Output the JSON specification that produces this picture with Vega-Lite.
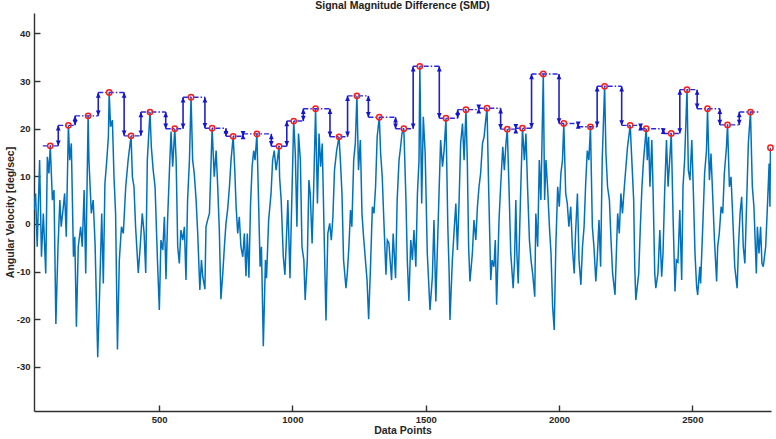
{
"$schema": "https://vega.github.io/schema/vega-lite/v6.json",
"width": 737, "height": 398,
"autosize": {"type": "none"},
"padding": {"left": 34, "top": 13, "right": 5, "bottom": 28},
"background": "white",
"title": {"text": "Signal Magnitude Difference (SMD)", "fontSize": 10.5, "font": "Liberation Sans", "fontWeight": "bold", "color": "#222222", "offset": 2, "anchor": "middle"},
"config": {
 "view": {"stroke": null},
 "axis": {"domainColor": "#303030", "domainWidth": 1.4, "tickColor": "#303030", "tickWidth": 1.4, "tickSize": -6, "labelFont": "Liberation Sans", "labelFontSize": 9.5, "labelFontWeight": "bold", "labelColor": "#262626", "titleFont": "Liberation Sans", "titleFontSize": 10.5, "titleFontWeight": "bold", "titleColor": "#262626", "grid": false}
},
"datasets": {
 "signal": [
{"x":31,"y":2.9},{"x":37,"y":6.4},{"x":43,"y":-4.8},{"x":52,"y":13.4},{"x":59,"y":-6.9},{"x":66,"y":2.2},{"x":75,"y":-10.4},{"x":81,"y":14.1},{"x":87,"y":10.6},{"x":92,"y":16.4},{"x":100,"y":5.0},{"x":106,"y":7.1},{"x":113,"y":-21},{"x":121,"y":-4.8},{"x":128,"y":5.0},{"x":133,"y":-0.6},{"x":141,"y":3.6},{"x":146,"y":6.4},{"x":152,"y":-2.7},{"x":160,"y":20.7},{"x":165,"y":13.4},{"x":171,"y":16.9},{"x":179,"y":-6.9},{"x":184,"y":-2.7},{"x":190,"y":-21.6},{"x":197,"y":-4.8},{"x":206,"y":-0.6},{"x":212,"y":-4.8},{"x":219,"y":7.1},{"x":225,"y":-10.4},{"x":234,"y":22.7},{"x":237,"y":13.4},{"x":246,"y":2.2},{"x":253,"y":5.0},{"x":260,"y":-4.1},{"x":270,"y":-28},{"x":277,"y":-14.6},{"x":285,"y":2.2},{"x":291,"y":-12.5},{"x":297,"y":8.5},{"x":304,"y":13.4},{"x":310,"y":18.3},{"x":313,"y":27.6},{"x":318,"y":20.4},{"x":325,"y":21.8},{"x":331,"y":9.9},{"x":337,"y":2.2},{"x":344,"y":-26.4},{"x":351,"y":-7.6},{"x":359,"y":-0.6},{"x":366,"y":-2.0},{"x":375,"y":7.8},{"x":384,"y":13.4},{"x":395,"y":18.5},{"x":400,"y":9.9},{"x":406,"y":7.8},{"x":412,"y":-0.6},{"x":422,"y":-10.3},{"x":429,"y":-5},{"x":437,"y":2.2},{"x":444,"y":-2.0},{"x":450,"y":-10.3},{"x":456,"y":13.4},{"x":466,"y":23.5},{"x":471,"y":16.2},{"x":478,"y":11.3},{"x":485,"y":7.8},{"x":494,"y":-7.6},
{"x":501,"y":-18.1},{"x":507,"y":-3.4},{"x":514,"y":-5.5},{"x":520,"y":1.5},{"x":526,"y":-11.6},{"x":532,"y":0.8},{"x":539,"y":11.3},{"x":545,"y":19.4},{"x":551,"y":12},{"x":559,"y":20.0},{"x":564,"y":13.4},{"x":570,"y":-4.8},{"x":576,"y":-8.3},{"x":582,"y":-1.3},{"x":589,"y":-3.4},{"x":595,"y":-0.6},{"x":601,"y":-11.8},{"x":607,"y":5},{"x":614,"y":13.4},{"x":620,"y":26.6},{"x":626,"y":13.4},{"x":632,"y":10.6},{"x":639,"y":5},{"x":645,"y":-2},{"x":653,"y":-13.9},{"x":659,"y":-7.6},{"x":664,"y":-11.1},{"x":672,"y":-13.7},{"x":676,"y":-0.6},{"x":682,"y":0.8},{"x":689,"y":2.2},{"x":699,"y":20.1},{"x":707,"y":9.9},{"x":714,"y":15.4},{"x":720,"y":7.8},{"x":726,"y":-1.3},{"x":732,"y":-15.8},{"x":739,"y":-10.4},{"x":745,"y":-4.8},{"x":751,"y":0.1},{"x":757,"y":2.9},{"x":764,"y":7.8},{"x":770,"y":13.4},{"x":778,"y":18.4},{"x":784,"y":11.3},{"x":789,"y":3.6},{"x":795,"y":-2},{"x":801,"y":1.5},{"x":807,"y":-4.8},{"x":814,"y":-6.9},{"x":820,"y":-2},{"x":826,"y":-11},{"x":831,"y":-2},{"x":837,"y":-11.3},{"x":843,"y":4},{"x":849,"y":12},{"x":855,"y":15.4},{"x":860,"y":13.4},{"x":867,"y":18.9},{"x":874,"y":2.9},{"x":879,"y":-9},{"x":884,"y":-4.8},{"x":891,"y":-25.7},{"x":899,"y":-7.6},{"x":903,"y":-11.4},{"x":911,"y":0.8},{"x":920,"y":6.4},{"x":926,"y":13.4},{"x":932,"y":15.4},{"x":939,"y":11.3},{"x":950,"y":16.3},
{"x":952,"y":9.9},{"x":958,"y":5},{"x":966,"y":-6.9},{"x":972,"y":-10.7},{"x":977,"y":-4},{"x":983,"y":5},{"x":991,"y":-11.4},{"x":996,"y":0.8},{"x":1005,"y":21.6},{"x":1011,"y":14.8},{"x":1017,"y":-0.6},{"x":1023,"y":19},{"x":1030,"y":13.4},{"x":1036,"y":-4.8},{"x":1043,"y":-7.6},{"x":1048,"y":-16},{"x":1056,"y":-7.6},{"x":1062,"y":9.2},{"x":1067,"y":6.4},{"x":1074,"y":-4.1},{"x":1080,"y":7.8},{"x":1087,"y":24.2},{"x":1094,"y":4.3},{"x":1100,"y":19},{"x":1106,"y":12},{"x":1112,"y":16.9},{"x":1118,"y":0.8},{"x":1126,"y":-20.3},{"x":1133,"y":-2},{"x":1140,"y":0.1},{"x":1146,"y":-3.4},{"x":1152,"y":1.5},{"x":1158,"y":11.3},{"x":1166,"y":15.4},{"x":1175,"y":18.3},{"x":1180,"y":13.4},{"x":1186,"y":6.4},{"x":1192,"y":-7.6},{"x":1201,"y":-13.5},{"x":1206,"y":-10.4},{"x":1212,"y":-4.8},{"x":1218,"y":2.9},{"x":1223,"y":-0.6},{"x":1230,"y":13.4},{"x":1236,"y":16.9},{"x":1242,"y":26.9},{"x":1248,"y":11.3},{"x":1255,"y":17.6},{"x":1261,"y":2.2},{"x":1267,"y":-2.7},{"x":1274,"y":-7.6},{"x":1280,"y":-11.8},{"x":1286,"y":-20},{"x":1293,"y":-9},{"x":1300,"y":3.6},{"x":1306,"y":2.2},{"x":1312,"y":7.8},{"x":1318,"y":18.3},{"x":1326,"y":22.4},{"x":1331,"y":14.8},{"x":1337,"y":9.9},{"x":1343,"y":0.8},{"x":1351,"y":-10.7},{"x":1356,"y":-3.4},{"x":1362,"y":-4},{"x":1372,"y":-11.8},{"x":1378,"y":-2},{"x":1387,"y":-11.4},{"x":1393,"y":5},{"x":1400,"y":13.4},{"x":1406,"y":16.2},{"x":1411,"y":19},
{"x":1418,"y":20.0},{"x":1426,"y":5},{"x":1431,"y":-7.6},{"x":1437,"y":-16.2},{"x":1444,"y":-3.4},{"x":1450,"y":-7.6},{"x":1456,"y":-1.3},{"x":1463,"y":-9},{"x":1469,"y":6.4},{"x":1475,"y":13.4},{"x":1478,"y":33.1},{"x":1485,"y":4.3},{"x":1491,"y":22.5},{"x":1498,"y":14.8},{"x":1506,"y":-6.2},{"x":1512,"y":-13.2},{"x":1516,"y":-18.1},{"x":1525,"y":-11.1},{"x":1531,"y":0.8},{"x":1538,"y":-16.3},{"x":1550,"y":6.4},{"x":1556,"y":17.6},{"x":1563,"y":12},{"x":1569,"y":15.4},{"x":1576,"y":22.2},{"x":1583,"y":-0.6},{"x":1588,"y":-10.4},{"x":1591,"y":-20.2},{"x":1600,"y":-7.6},{"x":1606,"y":-2},{"x":1613,"y":4.3},{"x":1619,"y":-5.5},{"x":1625,"y":4.3},{"x":1631,"y":16.9},{"x":1638,"y":21.1},{"x":1644,"y":13.4},{"x":1651,"y":24.0},{"x":1656,"y":13.4},{"x":1661,"y":-4.8},{"x":1666,"y":-12.1},{"x":1675,"y":-6.2},{"x":1681,"y":0.8},{"x":1688,"y":-3.4},{"x":1694,"y":3.6},{"x":1700,"y":7.8},{"x":1706,"y":10.6},{"x":1713,"y":16.9},{"x":1719,"y":18.3},{"x":1725,"y":21.8},{"x":1730,"y":24.3},{"x":1736,"y":7.8},{"x":1744,"y":-11.8},{"x":1749,"y":-7.6},{"x":1756,"y":-9},{"x":1761,"y":-3.4},{"x":1766,"y":-17},{"x":1775,"y":0.8},{"x":1781,"y":7.8},{"x":1789,"y":16.2},{"x":1795,"y":11.3},{"x":1801,"y":16.9},{"x":1806,"y":19.9},{"x":1813,"y":6.4},{"x":1819,"y":-6.2},{"x":1828,"y":-13.5},{"x":1833,"y":-8},{"x":1838,"y":5},{"x":1842,"y":-6.2},{"x":1847,"y":-12.5},{"x":1856,"y":6.4},{"x":1863,"y":20.1},
{"x":1870,"y":13.4},{"x":1876,"y":19},{"x":1882,"y":7.8},{"x":1889,"y":-3.4},{"x":1895,"y":-7.6},{"x":1901,"y":-10.4},{"x":1909,"y":-15.3},{"x":1913,"y":2.2},{"x":1920,"y":-4.8},{"x":1926,"y":13.4},{"x":1932,"y":5},{"x":1941,"y":31.5},{"x":1946,"y":5},{"x":1951,"y":13.4},{"x":1957,"y":7.8},{"x":1964,"y":-0.6},{"x":1970,"y":-6.2},{"x":1976,"y":-17.4},{"x":1982,"y":-22.3},{"x":1988,"y":-4.8},{"x":1995,"y":7.8},{"x":2001,"y":3.6},{"x":2007,"y":10.6},{"x":2013,"y":13.4},{"x":2018,"y":21.1},{"x":2025,"y":6.4},{"x":2031,"y":4.3},{"x":2037,"y":-0.6},{"x":2044,"y":3.6},{"x":2050,"y":-4.8},{"x":2057,"y":-10.4},{"x":2062,"y":-2},{"x":2069,"y":6.4},{"x":2075,"y":-7.6},{"x":2082,"y":-12.8},{"x":2088,"y":-4.8},{"x":2094,"y":-0.6},{"x":2100,"y":8.5},{"x":2106,"y":15.4},{"x":2112,"y":13.4},{"x":2118,"y":20.4},{"x":2125,"y":-0.6},{"x":2131,"y":-4.8},{"x":2138,"y":-12.1},{"x":2143,"y":-7.6},{"x":2150,"y":0.8},{"x":2156,"y":-9},{"x":2162,"y":13.4},{"x":2171,"y":28.9},{"x":2176,"y":14.8},{"x":2182,"y":7.8},{"x":2189,"y":5},{"x":2195,"y":-3.4},{"x":2201,"y":-10.4},{"x":2210,"y":-14.9},{"x":2215,"y":-6.2},{"x":2220,"y":2.2},{"x":2226,"y":-2},{"x":2232,"y":6.4},{"x":2238,"y":2.2},{"x":2245,"y":7.8},{"x":2251,"y":12},{"x":2257,"y":16.2},{"x":2267,"y":20.7},{"x":2273,"y":13.4},{"x":2280,"y":5},{"x":2284,"y":-9},{"x":2288,"y":-16},{"x":2299,"y":-10.4},{"x":2305,"y":-0.6},{"x":2311,"y":7.8},{"x":2317,"y":13.4},{"x":2327,"y":20.0},
{"x":2331,"y":13.4},{"x":2336,"y":18.3},{"x":2341,"y":7.8},{"x":2348,"y":17.6},{"x":2353,"y":6.4},{"x":2359,"y":-10.4},{"x":2363,"y":-13.5},{"x":2371,"y":-10.4},{"x":2378,"y":-1.3},{"x":2385,"y":-11.1},{"x":2390,"y":-6.2},{"x":2396,"y":6.4},{"x":2403,"y":17.6},{"x":2409,"y":7.8},{"x":2415,"y":13.4},{"x":2421,"y":19.0},{"x":2428,"y":0.8},{"x":2435,"y":-14.2},{"x":2440,"y":-7.6},{"x":2446,"y":-8},{"x":2453,"y":2.9},{"x":2460,"y":-11.8},{"x":2465,"y":7.8},{"x":2471,"y":13.4},{"x":2480,"y":28.2},{"x":2485,"y":11.3},{"x":2491,"y":9.2},{"x":2498,"y":17.6},{"x":2504,"y":6.4},{"x":2510,"y":-6.2},{"x":2516,"y":-13.2},{"x":2520,"y":-14.9},{"x":2528,"y":-9},{"x":2531,"y":-12.5},{"x":2540,"y":0.8},{"x":2546,"y":10.6},{"x":2553,"y":15.4},{"x":2557,"y":24.2},{"x":2564,"y":9.2},{"x":2570,"y":14.8},{"x":2576,"y":6.4},{"x":2583,"y":-3.4},{"x":2591,"y":-12.1},{"x":2595,"y":-4.8},{"x":2601,"y":-2},{"x":2608,"y":3.6},{"x":2614,"y":2.2},{"x":2620,"y":10.6},{"x":2628,"y":16.2},{"x":2632,"y":20.8},{"x":2639,"y":7.8},{"x":2645,"y":9.9},{"x":2651,"y":2.2},{"x":2659,"y":-9},{"x":2668,"y":-13.5},{"x":2673,"y":-4.8},{"x":2679,"y":2.2},{"x":2685,"y":5.7},{"x":2691,"y":-4.8},{"x":2697,"y":-8.3},{"x":2704,"y":5},{"x":2710,"y":16.9},{"x":2718,"y":23.5},{"x":2725,"y":7.8},{"x":2731,"y":3.6},{"x":2740,"y":-10.4},{"x":2744,"y":-0.6},{"x":2750,"y":-6.2},{"x":2756,"y":-0.6},{"x":2761,"y":-8.3},{"x":2766,"y":-9},{"x":2775,"y":-4.8},{"x":2781,"y":2.9},{"x":2788,"y":12.7},{"x":2791,"y":3.6},{"x":2793,"y":16.0}
 ],
 "peaks": [
{"x":92,"y":16.4},{"x":160,"y":20.7},{"x":234,"y":22.7},{"x":313,"y":27.6},{"x":395,"y":18.5},{"x":466,"y":23.5},{"x":559,"y":20.0},{"x":620,"y":26.6},{"x":699,"y":20.1},{"x":778,"y":18.4},{"x":867,"y":18.9},{"x":950,"y":16.3},{"x":1005,"y":21.6},{"x":1087,"y":24.2},{"x":1175,"y":18.3},{"x":1242,"y":26.9},{"x":1326,"y":22.4},{"x":1418,"y":20.0},{"x":1478,"y":33.1},{"x":1576,"y":22.2},{"x":1651,"y":24.0},{"x":1730,"y":24.3},{"x":1806,"y":19.9},{"x":1863,"y":20.1},{"x":1941,"y":31.5},{"x":2018,"y":21.1},{"x":2118,"y":20.4},{"x":2171,"y":28.9},{"x":2267,"y":20.7},{"x":2327,"y":20.0},{"x":2421,"y":19.0},{"x":2480,"y":28.2},{"x":2557,"y":24.2},{"x":2632,"y":20.8},{"x":2718,"y":23.5},{"x":2793,"y":16.0}
 ],
 "steps": [
{"x":64,"x2":122,"y":16.4},{"x":122,"x2":185,"y":20.7},{"x":185,"x2":272,"y":22.7},{"x":272,"x2":369,"y":27.6},{"x":369,"x2":432,"y":18.5},{"x":432,"x2":525,"y":23.5},{"x":525,"x2":590,"y":20.0},{"x":590,"x2":672,"y":26.6},{"x":672,"x2":751,"y":20.1},{"x":751,"x2":815,"y":18.4},{"x":815,"x2":921,"y":18.9},{"x":921,"x2":979,"y":16.3},{"x":979,"x2":1041,"y":21.6},{"x":1041,"x2":1141,"y":24.2},{"x":1141,"x2":1207,"y":18.3},{"x":1207,"x2":1285,"y":26.9},{"x":1285,"x2":1387,"y":22.4},{"x":1387,"x2":1453,"y":20.0},{"x":1453,"x2":1551,"y":33.1},{"x":1551,"x2":1620,"y":22.2},{"x":1620,"x2":1699,"y":24.0},{"x":1699,"x2":1781,"y":24.3},{"x":1781,"x2":1838,"y":19.9},{"x":1838,"x2":1897,"y":20.1},{"x":1897,"x2":2000,"y":31.5},{"x":2000,"x2":2072,"y":21.1},{"x":2072,"x2":2143,"y":20.4},{"x":2143,"x2":2235,"y":28.9},{"x":2235,"x2":2306,"y":20.7},{"x":2306,"x2":2391,"y":20.0},{"x":2391,"x2":2453,"y":19.0},{"x":2453,"x2":2518,"y":28.2},{"x":2518,"x2":2603,"y":24.2},{"x":2603,"x2":2676,"y":20.8},{"x":2676,"x2":2751,"y":23.5}
 ],
 "arrows": [
{"x":122,"lo":16.4,"hi":20.7},{"x":185,"lo":20.7,"hi":22.7},{"x":272,"lo":22.7,"hi":27.6},{"x":369,"lo":18.5,"hi":27.6},{"x":432,"lo":18.5,"hi":23.5},{"x":525,"lo":20.0,"hi":23.5},{"x":590,"lo":20.0,"hi":26.6},{"x":672,"lo":20.1,"hi":26.6},{"x":751,"lo":18.4,"hi":20.1},{"x":815,"lo":18.4,"hi":18.9},{"x":921,"lo":16.3,"hi":18.9},{"x":979,"lo":16.3,"hi":21.6},{"x":1041,"lo":21.6,"hi":24.2},{"x":1141,"lo":18.3,"hi":24.2},{"x":1207,"lo":18.3,"hi":26.9},{"x":1285,"lo":22.4,"hi":26.9},{"x":1387,"lo":20.0,"hi":22.4},{"x":1453,"lo":20.0,"hi":33.1},{"x":1551,"lo":22.2,"hi":33.1},{"x":1620,"lo":22.2,"hi":24.0},{"x":1699,"lo":24.0,"hi":24.3},{"x":1781,"lo":19.9,"hi":24.3},{"x":1838,"lo":19.9,"hi":20.1},{"x":1897,"lo":20.1,"hi":31.5},{"x":2000,"lo":21.1,"hi":31.5},{"x":2072,"lo":20.4,"hi":21.1},{"x":2143,"lo":20.4,"hi":28.9},{"x":2235,"lo":20.7,"hi":28.9},{"x":2306,"lo":20.0,"hi":20.7},{"x":2391,"lo":19.0,"hi":20.0},{"x":2453,"lo":19.0,"hi":28.2},{"x":2518,"lo":24.2,"hi":28.2},{"x":2603,"lo":20.8,"hi":24.2},{"x":2676,"lo":20.8,"hi":23.5}
 ]
},
"layer": [
 {"data": {"name": "signal"}, "mark": {"type": "line", "color": "#0072BD", "strokeWidth": 1.5, "clip": true},
  "encoding": {
   "x": {"field": "x", "type": "quantitative", "title": "Data Points", "scale": {"domain": [31, 2795], "nice": false, "zero": false}, "axis": {"values": [500, 1000, 1500, 2000, 2500], "labelExpr": "'' + datum.value", "labelPadding": 9, "titlePadding": 2}},
   "y": {"field": "y", "type": "quantitative", "title": "Angular Velocity [deg/sec]", "scale": {"domain": [-39.3, 44.3], "nice": false, "zero": false}, "axis": {"values": [-30, -20, -10, 0, 10, 20, 30, 40], "labelExpr": "'' + datum.value", "labelPadding": 10, "titleX": -24, "titleBaseline": "middle", "titleAlign": "center", "titleAngle": -90}}
  }},
 {"data": {"name": "steps"}, "mark": {"type": "rule", "color": "#2828e6", "strokeWidth": 1.4, "strokeDash": [5, 2, 1.5, 2]},
  "encoding": {
   "x": {"field": "x", "type": "quantitative", "title": "Data Points"},
   "x2": {"field": "x2"},
   "y": {"field": "y", "type": "quantitative", "title": "Angular Velocity [deg/sec]"}
  }},
 {"data": {"name": "arrows"}, "mark": {"type": "rule", "color": "#2020c8", "strokeWidth": 1.6},
  "encoding": {
   "x": {"field": "x", "type": "quantitative", "title": "Data Points"},
   "y": {"field": "lo", "type": "quantitative", "title": "Angular Velocity [deg/sec]"},
   "y2": {"field": "hi"}
  }},
 {"data": {"name": "arrows"}, "mark": {"type": "point", "shape": "M0,0L-0.5,1.1L0.5,1.1Z", "size": 90, "filled": true, "color": "#1515d0", "opacity": 1},
  "encoding": {
   "x": {"field": "x", "type": "quantitative", "title": "Data Points"},
   "y": {"field": "hi", "type": "quantitative", "title": "Angular Velocity [deg/sec]"}
  }},
 {"data": {"name": "arrows"}, "mark": {"type": "point", "shape": "M0,0L-0.5,-1.1L0.5,-1.1Z", "size": 90, "filled": true, "color": "#1515d0", "opacity": 1},
  "encoding": {
   "x": {"field": "x", "type": "quantitative", "title": "Data Points"},
   "y": {"field": "lo", "type": "quantitative", "title": "Angular Velocity [deg/sec]"}
  }},
 {"data": {"name": "peaks"}, "mark": {"type": "point", "shape": "circle", "size": 28, "filled": false, "stroke": "#ff1a1a", "strokeWidth": 1.5, "opacity": 1},
  "encoding": {
   "x": {"field": "x", "type": "quantitative", "title": "Data Points"},
   "y": {"field": "y", "type": "quantitative", "title": "Angular Velocity [deg/sec]"}
  }}
]
}
